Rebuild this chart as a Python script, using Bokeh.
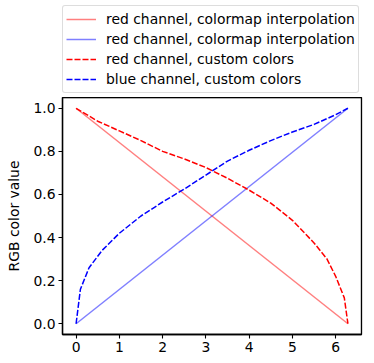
from bokeh.plotting import figure
from bokeh.layouts import column
from bokeh.models import Legend, LegendItem, FixedTicker, Range1d, CustomJSTickFormatter, BoxAnnotation
from bokeh.embed import file_html
from bokeh.resources import INLINE

# Data
x_end = 6.283
interp_x = [0.0, x_end]
red_interp = [1.0, 0.0]
blue_interp = [0.0, 1.0]

red_custom_x = [0.0, 0.5, 1.0, 1.5, 2.0, 2.5, 3.0, 3.5, 4.0, 4.5, 5.0, 5.5, 5.8, 6.0, 6.1, 6.2, 6.283]
red_custom = [1.0, 0.94, 0.895, 0.85, 0.80, 0.765, 0.725, 0.675, 0.62, 0.56, 0.48, 0.375, 0.30, 0.22, 0.17, 0.12, 0.0]

blue_custom_x = [0.0, 0.1, 0.3, 0.6, 1.0, 1.5, 2.0, 2.5, 3.0, 3.5, 4.0, 4.5, 5.0, 5.5, 6.0, 6.283]
blue_custom = [0.0, 0.16, 0.26, 0.34, 0.42, 0.50, 0.565, 0.625, 0.69, 0.755, 0.805, 0.85, 0.89, 0.925, 0.97, 1.0]

labels = ["red channel, colormap interpolation",
          "red channel, colormap interpolation",
          "red channel, custom colors",
          "blue channel, custom colors"]
x_ticks = [0, 1, 2, 3, 4, 5, 6]
y_ticks = [0.0, 0.2, 0.4, 0.6, 0.8, 1.0]

FONT = "DejaVu Sans"
FS = "13.9px"
W = 366


def add_lines(fig):
    a = fig.line(interp_x, red_interp, line_color="red", line_alpha=0.5, line_width=1.5)
    b = fig.line(interp_x, blue_interp, line_color="blue", line_alpha=0.5, line_width=1.5)
    c = fig.line(red_custom_x, red_custom, line_color="red", line_dash="6 2", line_width=1.5)
    d = fig.line(blue_custom_x, blue_custom, line_color="blue", line_dash="6 2", line_width=1.5)
    return [a, b, c, d]


# main plot
p = figure(width=W, height=266, output_backend="svg", toolbar_location=None,
           x_range=Range1d(-0.314, 6.597), y_range=Range1d(-0.05, 1.05),
           min_border_left=62, min_border_right=5, min_border_top=0, min_border_bottom=29)
p.background_fill_color = None
p.border_fill_color = None
p.outline_line_color = "black"
p.outline_line_width = 1.3
p.grid.visible = False
add_lines(p)
# frame box drawn as an annotation spanning the whole frame
p.add_layout(BoxAnnotation(fill_alpha=0, line_color="black", line_width=1.3, level="overlay"))

for ax in (p.xaxis, p.yaxis):
    ax.major_tick_in = 0
    ax.major_tick_out = 4
    ax.major_tick_line_width = 1.1
    ax.axis_line_width = 1.3
    ax.minor_tick_line_color = None
    ax.major_label_text_font = FONT
    ax.major_label_text_font_size = FS
    ax.major_label_text_color = "black"
    ax.axis_line_color = "black"
    ax.major_tick_line_color = "black"
    ax.major_label_standoff = 3

p.xaxis.ticker = FixedTicker(ticks=x_ticks)
p.yaxis.ticker = FixedTicker(ticks=y_ticks)
p.yaxis.formatter = CustomJSTickFormatter(code="return tick.toFixed(1);")
p.yaxis.axis_label = "RGB color value"
p.yaxis.axis_label_text_font = FONT
p.yaxis.axis_label_text_font_size = FS
p.yaxis.axis_label_text_font_style = "normal"
p.yaxis.axis_label_text_color = "black"
p.yaxis.axis_label_standoff = 8

# legend strip (lines drawn out of view; only the legend shows)
pl = figure(width=W, height=97, output_backend="svg", toolbar_location=None,
            x_range=Range1d(100, 101), y_range=Range1d(100, 101),
            x_axis_location=None, y_axis_location=None,
            min_border_left=62, min_border_right=4, min_border_top=5, min_border_bottom=0)
pl.grid.visible = False
pl.outline_line_color = None
pl.background_fill_color = None
pl.border_fill_color = None
rs = add_lines(pl)

legend = Legend(items=[LegendItem(label=lab, renderers=[r]) for lab, r in zip(labels, rs)],
                location="top_left", orientation="vertical")
legend.margin = 0
legend.padding = 3
legend.spacing = 0
legend.label_height = 20
legend.glyph_height = 20
legend.glyph_width = 30
legend.label_standoff = 10
legend.label_text_font = FONT
legend.label_text_font_size = FS
legend.label_text_color = "black"
legend.border_line_color = "#bbbbbb"
legend.border_line_width = 1.3
legend.border_radius = 3
pl.add_layout(legend, "center")

layout = column(pl, p, spacing=0)
open("out.html", "w").write(file_html(layout, INLINE))
